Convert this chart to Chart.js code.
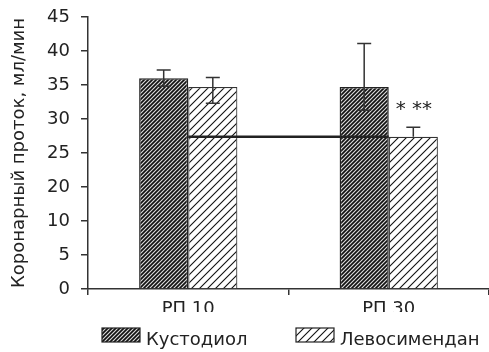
<!DOCTYPE html>
<html>
<head>
<meta charset="utf-8">
<script src="https://cdn.jsdelivr.net/npm/chart.js@4.4.1/dist/chart.umd.min.js"></script>
<style>
    body { margin: 0; background: #fff; }
    #wrapper { width: 489px; height: 352px; }
</style>
</head>
<body>
<div id="wrapper"><canvas id="graph"></canvas></div>
<script>
const categories = ["РП 10", "РП 30"];
const kust_label = "Кустодиол";
const levo_label = "Левосимендан";
const kust_values = [36.0, 34.7];
const levo_values = [34.7, 27.4];
const kust_err_up = [1.2, 6.4];
const kust_err_down = [1.2, 3.4];
const levo_err_up = [1.4, 1.4];
const levo_err_down = [2.4, 0];
/* the printed axis skips 15, ticks are evenly spaced */
const y_tick_labels = [0, 5, 10, 20, 25, 30, 35, 40, 45];
const bracket_value = 27.4;
const levo_marks = ["", "* **"];

/* position of a value on the printed (uneven) axis */
function axispos(v) {
    for (let i = 1; i < y_tick_labels.length; i++) {
        if (v <= y_tick_labels[i]) {
            const a = y_tick_labels[i - 1];
            const b = y_tick_labels[i];
            return i - 1 + (v - a) / (b - a);
        }
    }
    return y_tick_labels.length - 1;
}

function hatch(size, width, bg) {
    const c = document.createElement("canvas");
    c.width = size;
    c.height = size;
    const g = c.getContext("2d");
    g.fillStyle = bg;
    g.fillRect(0, 0, size, size);
    g.strokeStyle = "#111";
    g.lineWidth = width;
    g.beginPath();
    g.moveTo(-1, size + 1);
    g.lineTo(size + 1, -1);
    g.moveTo(-1, 1);
    g.lineTo(1, -1);
    g.moveTo(size - 1, size + 1);
    g.lineTo(size + 1, size - 1);
    g.stroke();
    return g.createPattern(c, "repeat");
}

const dark_fill = hatch(4, 1.7, "#dcdcdc");
const light_fill = hatch(8, 1.1, "#ffffff");

const errorbars = {
    id: "errorbars",
    afterDatasetsDraw(chart) {
        const ctx = chart.ctx;
        const y = chart.scales.y;
        ctx.save();
        ctx.strokeStyle = "#333";
        ctx.lineWidth = 1.5;
        chart.data.datasets.forEach((ds, di) => {
            const meta = chart.getDatasetMeta(di);
            meta.data.forEach((bar, i) => {
                const v = ds.raw[i];
                const top = y.getPixelForValue(axispos(v + ds.err_up[i]));
                const bot = y.getPixelForValue(axispos(v - ds.err_down[i]));
                ctx.beginPath();
                ctx.moveTo(bar.x, top);
                ctx.lineTo(bar.x, bot);
                ctx.moveTo(bar.x - 7, top);
                ctx.lineTo(bar.x + 7, top);
                if (ds.err_down[i] > 0) {
                    ctx.moveTo(bar.x - 7, bot);
                    ctx.lineTo(bar.x + 7, bot);
                }
                ctx.stroke();
            });
        });

        /* line between the groups */
        const x = chart.scales.x;
        const by = y.getPixelForValue(axispos(bracket_value));
        ctx.strokeStyle = "#222";
        ctx.lineWidth = 2.5;
        ctx.beginPath();
        ctx.moveTo(x.getPixelForValue(0), by);
        ctx.lineTo(x.getPixelForValue(1), by);
        ctx.stroke();

        /* significance marks */
        const meta = chart.getDatasetMeta(1);
        ctx.fillStyle = "#222";
        ctx.font = "20px 'DejaVu Sans'";
        ctx.textBaseline = "middle";
        ctx.textAlign = "left";
        meta.data.forEach((bar, i) => {
            if (!levo_marks[i]) return;
            const v = levo_values[i] + levo_err_up[i];
            const ty = y.getPixelForValue(axispos(v)) - 17;
            ctx.fillText(levo_marks[i], bar.x - bar.width / 2 + 7, ty);
        });
        ctx.restore();
    },
};

const legendbox = {
    id: "legendbox",
    afterDraw(chart, args, opts) {
        const ctx = chart.ctx;
        ctx.save();
        ctx.font = "18px 'DejaVu Sans'";
        ctx.textBaseline = "alphabetic";
        ctx.textAlign = "left";
        chart.data.datasets.forEach((ds, i) => {
            const x = opts.x[i];
            ctx.fillStyle = ds.backgroundColor;
            ctx.fillRect(x, opts.y, opts.boxWidth, opts.boxHeight);
            ctx.strokeStyle = "#222";
            ctx.lineWidth = 1.2;
            ctx.strokeRect(x, opts.y, opts.boxWidth, opts.boxHeight);
            ctx.fillStyle = "#222";
            ctx.fillText(ds.label, x + opts.boxWidth + 6, opts.y + 17);
        });
        ctx.restore();
    },
};

Chart.defaults.font.family = "'DejaVu Sans', sans-serif";

const ctx = document.getElementById("graph");
const graph = new Chart(ctx, {
    type: "bar",
    data: {
        labels: categories,
        datasets: [
            {
                label: kust_label,
                data: kust_values.map(axispos),
                raw: kust_values,
                err_up: kust_err_up,
                err_down: kust_err_down,
                backgroundColor: dark_fill,
                borderColor: "#222",
                borderWidth: 1.5,
            },
            {
                label: levo_label,
                data: levo_values.map(axispos),
                raw: levo_values,
                err_up: levo_err_up,
                err_down: levo_err_down,
                backgroundColor: light_fill,
                borderColor: "#333",
                borderWidth: 1.2,
            },
        ],
    },
    options: {
        responsive: true,
        maintainAspectRatio: false,
        animation: false,
        devicePixelRatio: 1,
        layout: { padding: { top: 17, right: 0, bottom: 40, left: 0 } },
        datasets: {
            bar: { categoryPercentage: 0.49, barPercentage: 1.0 },
        },
        plugins: {
            legend: { display: false },
            tooltip: { enabled: false },
            legendbox: { x: [102, 296], y: 328, boxWidth: 38, boxHeight: 14 },
        },
        scales: {
            x: {
                grid: {
                    drawOnChartArea: false,
                    tickLength: 6,
                    color: "#333",
                    lineWidth: 1.5,
                    offset: true,
                },
                border: { color: "#333", width: 1.5 },
                ticks: { color: "#222", font: { size: 18 }, padding: 4 },
                afterFit: (s) => { s.height = 23; },
            },
            y: {
                min: 0,
                max: y_tick_labels.length - 1,
                afterBuildTicks: (s) => {
                    s.ticks = y_tick_labels.map((t, i) => ({ value: i }));
                },
                ticks: {
                    color: "#222",
                    font: { size: 18 },
                    padding: 11,
                    callback: (v, i) => String(y_tick_labels[i]),
                },
                grid: {
                    drawOnChartArea: false,
                    tickLength: 7,
                    color: "#333",
                    lineWidth: 1.5,
                },
                border: { color: "#333", width: 1.5 },
                title: {
                    display: true,
                    text: "Коронарный проток, мл/мин",
                    color: "#222",
                    font: { size: 18 },
                    padding: { top: 9, bottom: 0 },
                },
                afterFit: (s) => {
                    s.width = 88;
                    s.paddingTop = 0;
                    s.paddingBottom = 0;
                },
            },
        },
    },
    plugins: [errorbars, legendbox],
});
</script>
</body>
</html>
